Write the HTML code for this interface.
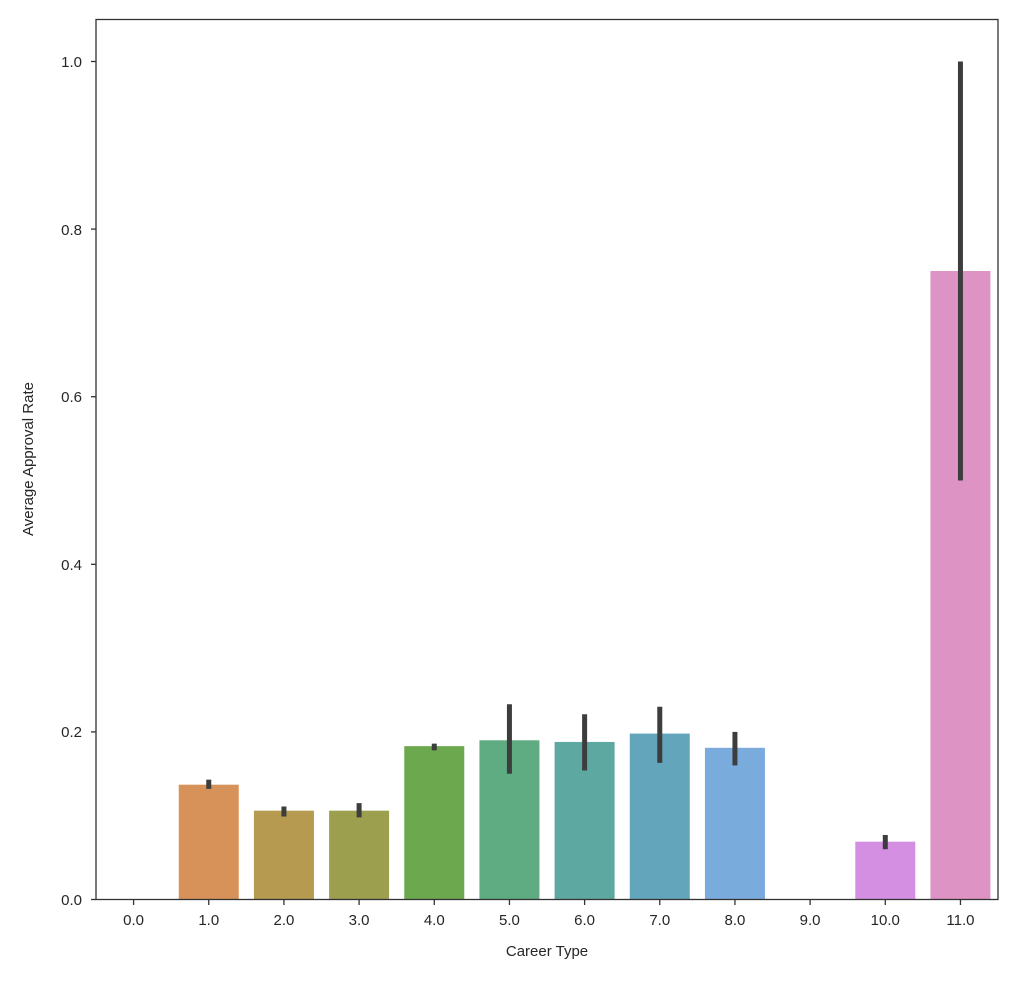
<!DOCTYPE html>
<html><head><meta charset="utf-8"><style>body{margin:0;background:#fff}svg{display:block}text{font-family:"Liberation Sans","DejaVu Sans",sans-serif;fill:#262626}</style></head>
<body>
<svg width="1024" height="983" viewBox="0 0 1024 983" xmlns="http://www.w3.org/2000/svg">
<g id="bars"></g>
<rect x="96" y="19.5" width="902" height="880" fill="none" stroke="#333" stroke-width="1.3"/>
<g stroke="#333" stroke-width="1.3">
<line x1="91" y1="899.5" x2="96" y2="899.5"/><line x1="91" y1="731.9" x2="96" y2="731.9"/><line x1="91" y1="564.3" x2="96" y2="564.3"/><line x1="91" y1="396.7" x2="96" y2="396.7"/><line x1="91" y1="229.1" x2="96" y2="229.1"/><line x1="91" y1="61.5" x2="96" y2="61.5"/>
</g>
<g font-size="15" text-anchor="end">
<text x="82" y="905">0.0</text><text x="82" y="737">0.2</text><text x="82" y="570">0.4</text><text x="82" y="402">0.6</text><text x="82" y="235">0.8</text><text x="82" y="67">1.0</text>
</g>
<text font-size="15" transform="translate(33,459) rotate(-90)" text-anchor="middle">Average Approval Rate</text>
<text font-size="15" x="547" y="956" text-anchor="middle">Career Type</text>
<g id="x"></g>
<script>
var vals=[0,0.137,0.106,0.106,0.183,0.19,0.188,0.198,0.181,0,0.069,0.75];
var err=[null,[0.132,0.143],[0.099,0.111],[0.098,0.115],[0.178,0.186],[0.15,0.233],[0.154,0.221],[0.163,0.23],[0.16,0.2],null,[0.06,0.077],[0.5,1.0]];
var cols=["#e8927c","#d69258","#b59a50","#9c9f4e","#6ca84e","#5fac82","#5ea8a2","#63a6bb","#79abdd","#b6a3e8","#d48fe3","#dd93c4"];
var ns="http://www.w3.org/2000/svg",b=document.getElementById("bars"),xg=document.getElementById("x");
function y(v){return 899.5-838*v;}
for(var i=0;i<12;i++){var cx=96+75.17*(i+0.5);
 if(vals[i]>0){var r=document.createElementNS(ns,"rect");r.setAttribute("x",cx-30);r.setAttribute("width",60);r.setAttribute("y",y(vals[i]));r.setAttribute("height",838*vals[i]);r.setAttribute("fill",cols[i]);b.appendChild(r);}
 if(err[i]){var l=document.createElementNS(ns,"line");l.setAttribute("x1",cx);l.setAttribute("x2",cx);l.setAttribute("y1",y(err[i][0]));l.setAttribute("y2",y(err[i][1]));l.setAttribute("stroke","#3d3d3d");l.setAttribute("stroke-width",5);b.appendChild(l);}
 var t=document.createElementNS(ns,"line");t.setAttribute("x1",cx);t.setAttribute("x2",cx);t.setAttribute("y1",899.5);t.setAttribute("y2",905);t.setAttribute("stroke","#333");t.setAttribute("stroke-width",1.3);xg.appendChild(t);
 var tx=document.createElementNS(ns,"text");tx.setAttribute("x",cx);tx.setAttribute("y",925);tx.setAttribute("font-size",15);tx.setAttribute("text-anchor","middle");tx.textContent=i.toFixed(1);xg.appendChild(tx);}
</script>
</svg>
</body></html>
